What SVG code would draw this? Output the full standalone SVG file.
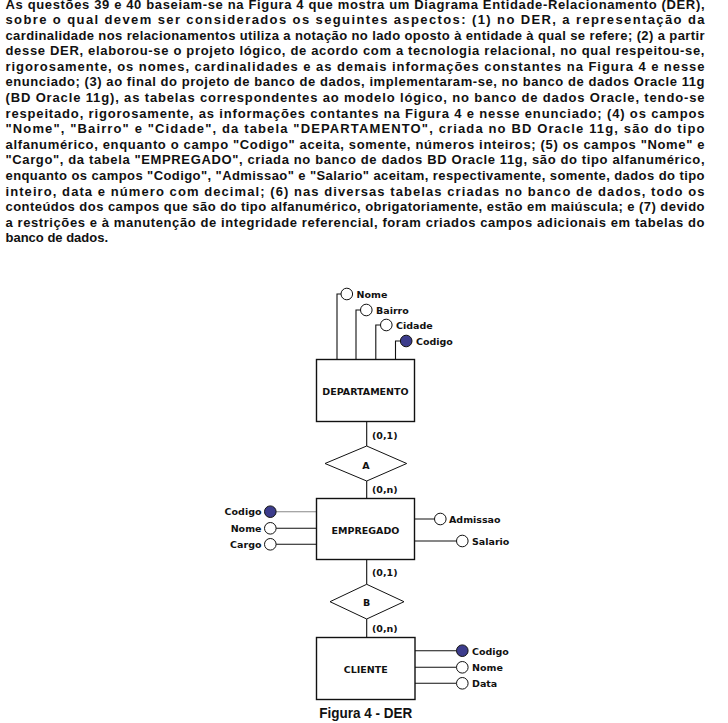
<svg xmlns="http://www.w3.org/2000/svg" width="728" height="723" viewBox="0 0 728 723">
<style>
.p{font-family:"Liberation Sans",Arial,sans-serif;font-weight:bold;font-size:13px;fill:#111}
.l{font-family:"DejaVu Sans",Verdana,sans-serif;font-weight:bold;font-size:9.5px;fill:#111}
.c{font-family:"DejaVu Sans",Verdana,sans-serif;font-weight:bold;font-size:9.5px;fill:#111;text-anchor:middle}
.r{text-anchor:end}
.ent{fill:#fff;stroke:#111;stroke-width:1.4}
.rel{fill:#fff;stroke:#111;stroke-width:1}
.ln{fill:none;stroke:#111;stroke-width:1.1}
.att{fill:#fff;stroke:#111;stroke-width:1}
.key{fill:#3c3c8c;stroke:#111;stroke-width:1}
.cap{font-family:"Liberation Sans",Arial,sans-serif;font-weight:bold;font-size:14px;fill:#111}
</style>
<rect width="728" height="723" fill="#fff"/>
<g id="enunciado">
<text class="p" x="5.5" y="9" textLength="699" lengthAdjust="spacing">As questões 39 e 40 baseiam-se na Figura 4 que mostra um Diagrama Entidade-Relacionamento (DER),</text>
<text class="p" x="5.5" y="23.9" textLength="699" lengthAdjust="spacing">sobre o qual devem ser considerados os seguintes aspectos: (1) no DER, a representação da</text>
<text class="p" x="5.5" y="39.5" textLength="699" lengthAdjust="spacing">cardinalidade nos relacionamentos utiliza a notação no lado oposto à entidade à qual se refere; (2) a partir</text>
<text class="p" x="5.5" y="55.1" textLength="699" lengthAdjust="spacing">desse DER, elaborou-se o projeto lógico, de acordo com a tecnologia relacional, no qual respeitou-se,</text>
<text class="p" x="5.5" y="70.7" textLength="699" lengthAdjust="spacing">rigorosamente, os nomes, cardinalidades e as demais informações constantes na Figura 4 e nesse</text>
<text class="p" x="5.5" y="86.3" textLength="699" lengthAdjust="spacing">enunciado; (3) ao final do projeto de banco de dados, implementaram-se, no banco de dados Oracle 11g</text>
<text class="p" x="5.5" y="101.9" textLength="699" lengthAdjust="spacing">(BD Oracle 11g), as tabelas correspondentes ao modelo lógico, no banco de dados Oracle, tendo-se</text>
<text class="p" x="5.5" y="117.5" textLength="699" lengthAdjust="spacing">respeitado, rigorosamente, as informações contantes na Figura 4 e nesse enunciado; (4) os campos</text>
<text class="p" x="5.5" y="133.1" textLength="699" lengthAdjust="spacing">"Nome", "Bairro" e "Cidade", da tabela "DEPARTAMENTO", criada no BD Oracle 11g, são do tipo</text>
<text class="p" x="5.5" y="148.7" textLength="699" lengthAdjust="spacing">alfanumérico, enquanto o campo "Codigo" aceita, somente, números inteiros; (5) os campos "Nome" e</text>
<text class="p" x="5.5" y="164.3" textLength="699" lengthAdjust="spacing">"Cargo", da tabela "EMPREGADO", criada no banco de dados BD Oracle 11g, são do tipo alfanumérico,</text>
<text class="p" x="5.5" y="179.9" textLength="699" lengthAdjust="spacing">enquanto os campos "Codigo", "Admissao" e "Salario" aceitam, respectivamente, somente, dados do tipo</text>
<text class="p" x="5.5" y="195.5" textLength="699" lengthAdjust="spacing">inteiro, data e número com decimal; (6) nas diversas tabelas criadas no banco de dados, todo os</text>
<text class="p" x="5.5" y="211.1" textLength="699" lengthAdjust="spacing">conteúdos dos campos que são do tipo alfanumérico, obrigatoriamente, estão em maiúscula; e (7) devido</text>
<text class="p" x="5.5" y="226.7" textLength="699" lengthAdjust="spacing">a restrições e à manutenção de integridade referencial, foram criados campos adicionais em tabelas do</text>
<text class="p" x="5.5" y="242.3">banco de dados.</text>
</g>
<g id="connectors">
<path class="ln" d="M341 294H337V359.5M360.5 310H356V359.5M380.5 325H375.8V359.5M400.5 341H395.5V359.5"/>
<path class="ln" d="M366.7 421.5V446M366.7 481V498.5M366.7 559V584.3M366.7 619V637.5"/>
<path fill="none" stroke="#888" stroke-width="1.1" d="M276 511.7H316.5"/>
<path class="ln" d="M276 528.3H316.5M276 544.3H316.5"/>
<path class="ln" d="M414.5 519H434.5M414.5 541H456.5"/>
<path class="ln" d="M415 650.7H456.5M415 667.3H456.5M415 683.3H456.5"/>
<text class="l" x="372" y="438.5">(0,1)</text>
<text class="l" x="372" y="493">(0,n)</text>
<text class="l" x="372" y="575.5">(0,1)</text>
<text class="l" x="372" y="631.5">(0,n)</text>
</g>
<g id="departamento">
<rect class="ent" x="316.5" y="359.5" width="98" height="62"/>
<text class="c" x="365.5" y="395">DEPARTAMENTO</text>
</g>
<g id="dep-nome"><circle class="att" cx="346.8" cy="294" r="5.8"/><text class="l" x="356.5" y="298">Nome</text></g>
<g id="dep-bairro"><circle class="att" cx="366.3" cy="310" r="5.8"/><text class="l" x="376" y="314">Bairro</text></g>
<g id="dep-cidade"><circle class="att" cx="386.3" cy="325" r="5.8"/><text class="l" x="396" y="329">Cidade</text></g>
<g id="dep-codigo"><circle class="key" cx="406.2" cy="341" r="5.8"/><text class="l" x="416" y="344.5">Codigo</text></g>
<g id="rel-a">
<polygon class="rel" points="325,463.5 366.7,446 406.7,463.5 366.7,481"/>
<text class="c" x="366" y="468.5">A</text>
</g>
<g id="empregado">
<rect class="ent" x="316.5" y="498.5" width="98" height="61"/>
<text class="c" x="365.5" y="533.5">EMPREGADO</text>
</g>
<g id="emp-codigo"><circle class="key" cx="270.3" cy="511.7" r="5.8"/><text class="l r" x="261.5" y="515">Codigo</text></g>
<g id="emp-nome"><circle class="att" cx="270.3" cy="528.3" r="5.8"/><text class="l r" x="261.5" y="531.8">Nome</text></g>
<g id="emp-cargo"><circle class="att" cx="270.3" cy="544.3" r="5.8"/><text class="l r" x="261.5" y="547.5">Cargo</text></g>
<g id="emp-admissao"><circle class="att" cx="440.3" cy="519" r="5.8"/><text class="l" x="449" y="522.5">Admissao</text></g>
<g id="emp-salario"><circle class="att" cx="462.3" cy="541" r="5.8"/><text class="l" x="472" y="544.5">Salario</text></g>
<g id="rel-b">
<polygon class="rel" points="330,601.7 366.7,584.3 404,601.7 366.7,619"/>
<text class="c" x="366.5" y="606">B</text>
</g>
<g id="cliente">
<rect class="ent" x="316.5" y="637.5" width="98.5" height="62"/>
<text class="c" x="365.7" y="672.5">CLIENTE</text>
</g>
<g id="cli-codigo"><circle class="key" cx="462.3" cy="650.7" r="5.8"/><text class="l" x="472" y="654.5">Codigo</text></g>
<g id="cli-nome"><circle class="att" cx="462.3" cy="667.3" r="5.8"/><text class="l" x="472" y="670.8">Nome</text></g>
<g id="cli-data"><circle class="att" cx="462.3" cy="683.3" r="5.8"/><text class="l" x="472" y="686.8">Data</text></g>
<g id="caption"><text class="cap" x="319.3" y="718.3" textLength="93" lengthAdjust="spacingAndGlyphs">Figura 4 - DER</text></g>
</svg>
